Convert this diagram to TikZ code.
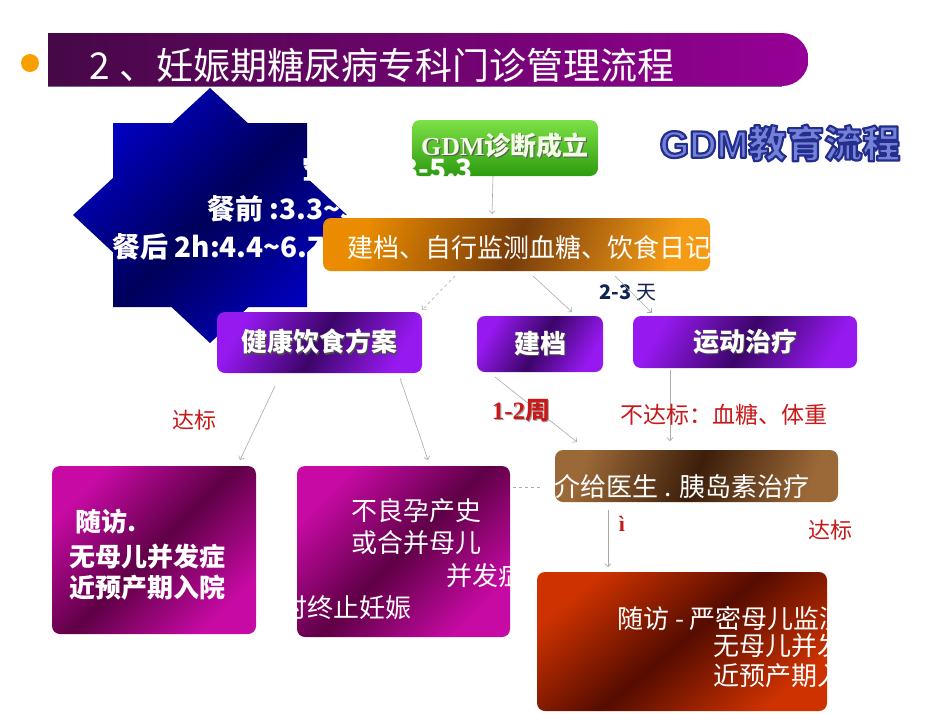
\documentclass[tikz,border=0pt]{standalone}
\usepackage{fontspec}
\setmainfont{Noto Sans CJK SC}
\newfontfamily\serifbf{Liberation Serif}
\newfontfamily\sansbf{Liberation Sans}
\usetikzlibrary{arrows.meta}

\definecolor{titleL}{RGB}{70,8,70}
\definecolor{titleR}{RGB}{150,0,150}
\definecolor{titleline}{RGB}{120,100,150}
\definecolor{bulletorange}{RGB}{247,160,0}
\definecolor{starlight}{RGB}{0,0,195}
\definecolor{stardark}{RGB}{0,0,90}
\definecolor{gdmtop}{RGB}{125,225,70}
\definecolor{gdmbottom}{RGB}{45,155,15}
\definecolor{gdmwhite}{RGB}{240,255,225}
\definecolor{gdmfill}{RGB}{115,130,215}
\definecolor{orangeA}{RGB}{235,140,0}
\definecolor{orangedark}{RGB}{120,60,10}
\definecolor{orangeB}{RGB}{245,155,20}
\definecolor{purpleA}{RGB}{150,25,240}
\definecolor{purpledark}{RGB}{60,5,105}
\definecolor{magentaA}{RGB}{200,10,165}
\definecolor{magentadark}{RGB}{95,0,70}
\definecolor{brownA}{RGB}{155,105,55}
\definecolor{browndark}{RGB}{60,30,10}
\definecolor{redA}{RGB}{205,50,0}
\definecolor{reddark}{RGB}{85,12,0}
\definecolor{labelred}{RGB}{200,25,25}
\definecolor{navytext}{RGB}{15,35,85}
\definecolor{linegray}{RGB}{170,170,170}

\newcommand{\boxradius}{8pt}
\newcommand{\shadowtext}[2]{\makebox[0pt][l]{\raisebox{-1.2pt}{\kern1.2pt\color{#1}#2}}#2}
% outlined letters: fill and stroke
\newcommand{\outlinetext}[1]{\special{pdf:literal 2 Tr 2.2 w 1 j 0.14 0.18 0.55 RG}#1\special{pdf:literal 0 Tr}}

\begin{document}
\begin{tikzpicture}[x=1pt,y=-1pt]
\tikzstyle{box}=[rounded corners=\boxradius,inner sep=0pt,outer sep=0pt]
\tikzstyle{conn}=[draw=linegray,line width=0.6pt,-{Straight Barb[length=3pt,width=6pt]}]
\tikzstyle{boxtext}=[anchor=base west,text=white,inner sep=0pt,font=\fontsize{26}{30}\selectfont]
\tikzstyle{startext}=[boxtext,font=\fontsize{28}{32}\selectfont\bfseries]
\tikzstyle{redlabel}=[text=labelred,inner sep=0pt,font=\fontsize{22}{26}\selectfont]
\tikzstyle{purplebox}=[box,left color=purpleA,right color=purpleA,middle color=purpledark,shading angle=60,text=white,font=\fontsize{26}{30}\selectfont\bfseries]
\tikzstyle{magentabox}=[box,left color=magentaA,right color=magentaA,middle color=magentadark,shading angle=45]

\useasboundingbox (0,0) rectangle (950,713);
\fill[white] (0,0) rectangle (950,713);

% title bar
\fill[bulletorange] (30,63) circle [radius=9];
\shade[left color=titleL,right color=titleR] (48,33) -- (782,33) arc [start angle=-90,end angle=90,radius=26.5] -- (48,86) -- cycle;
\draw[titleline,line width=1pt] (48,86) -- (782,86);
\node (title) [anchor=base west,text=white,inner sep=0pt,font=\fontsize{37}{40}\selectfont] at (89,79) {2\hspace{10pt}、妊娠期糖尿病专科门诊管理流程};

% star
\shade[left color=starlight,right color=starlight,middle color=stardark,shading angle=45]
  (113,123) rectangle (307,307) (210,88) -- (73,215) -- (210,343) -- (347,215) -- cycle;

\node (gdm) [box,top color=gdmtop,bottom color=gdmbottom,minimum width=186pt,minimum height=56pt] at (505,148) {};
\node (gdmtext) [text=gdmwhite,inner sep=0pt,font=\fontsize{26}{30}\selectfont\bfseries] at (505,146) {\shadowtext{black!65}{{\serifbf GDM}诊断成立}};

\node (fasting) [startext] at (302,179) {空腹 :3.3-5.3};
\node (premeal) [startext] at (207,219) {餐前 :3.3\textasciitilde 5.3};
\node (postmeal) [startext] at (112,257) {餐后 2h:4.4\textasciitilde 6.7};

\node (edu) [text=gdmfill,inner sep=0pt,font=\fontsize{38}{40}\selectfont\bfseries] at (780,143) {\outlinetext{{\sansbf GDM}教育流程}};

% record box
\node (record) [box,left color=orangeA,right color=orangeB,middle color=orangedark,shading angle=70,minimum width=387pt,minimum height=53pt] at (516.5,244.5) {};
\node (recordtext) [boxtext] at (347,257) {建档、自行监测血糖、饮食日记};

\node (diet) [purplebox,minimum width=205pt,minimum height=61pt] at (319.5,342.5) {\shadowtext{black!70}{健康饮食方案}};
\node (file) [purplebox,minimum width=126pt,minimum height=56pt] at (540,344) {\shadowtext{black!70}{建档}};
\node (exercise) [purplebox,minimum width=224pt,minimum height=52pt] at (745,342) {\shadowtext{black!70}{运动治疗}};

\node (days) [text=navytext,inner sep=0pt,font=\fontsize{20}{24}\selectfont] at (628,293) {\textbf{2-3} 天};

\draw[conn] ([xshift=-12pt]gdm.south) -- ([xshift=-24.5pt,yshift=4pt]record.north);
\draw[conn,dashed] ([xshift=-61.5pt,yshift=-5pt]record.south) -- ([xshift=102.5pt,yshift=2pt]diet.north);
\draw[conn] ([xshift=16.5pt,yshift=-5pt]record.south) -- ([xshift=32pt,yshift=4pt]file.north);
\draw[conn] ([xshift=98.5pt,yshift=-5pt]record.south) -- ([xshift=-93pt,yshift=3pt]exercise.north);

% lower boxes
\node (follow1) [magentabox,minimum width=204pt,minimum height=168pt] at (154,550) {};
\node (follow1a) [boxtext,font=\fontsize{26}{30}\selectfont\bfseries] at (75,531) {随访.};
\node (follow1b) [boxtext,font=\fontsize{26}{30}\selectfont\bfseries] at (69,566) {无母儿并发症};
\node (follow1c) [boxtext,font=\fontsize{26}{30}\selectfont\bfseries] at (69,597) {近预产期入院};

\node (terminate) [magentabox,minimum width=213pt,minimum height=171pt] at (403.5,551.5) {};
\node (terminatea) [boxtext] at (351,520) {不良孕产史};
\node (terminateb) [boxtext] at (351,552) {或合并母儿};
\node (terminatec) [boxtext] at (446,585) {并发症};
\node (terminated) [boxtext] at (255,617) {及时终止妊娠};

\draw[conn] ([xshift=-44.5pt,yshift=-13pt]diet.south) -- ([xshift=86pt,yshift=6pt]follow1.north);
\draw[conn] ([xshift=80.5pt,yshift=-5pt]diet.south) -- ([xshift=24.5pt,yshift=6pt]terminate.north);

\node (insulin) [box,left color=brownA,right color=brownA,middle color=browndark,shading angle=70,minimum width=283pt,minimum height=52pt] at (696.5,476) {};
\draw[conn,dashed,-] ([yshift=64.5pt,xshift=3pt]terminate.east) -- ([yshift=-11pt,xshift=-13pt]insulin.west);
\node (insulintext) [boxtext] at (528,496) {转介给医生 . 胰岛素治疗};

\draw[conn] ([xshift=-45pt,yshift=-5pt]file.south) -- ([xshift=-119.5pt,yshift=8pt]insulin.north);
\draw[conn] ([xshift=-75pt,yshift=-2pt]exercise.south) -- ([xshift=-26.5pt,yshift=9pt]insulin.north);

\node (follow2) [box,left color=redA,right color=redA,middle color=reddark,shading angle=40,minimum width=290pt,minimum height=139pt] at (682,641.5) {};
\node (follow2a) [boxtext] at (617,628) {随访 - 严密母儿监测};
\node (follow2b) [boxtext] at (713,655) {无母儿并发症};
\node (follow2c) [boxtext] at (713,685) {近预产期入院};

\draw[conn] ([xshift=-88.5pt,yshift=-8pt]insulin.south) -- ([xshift=-74pt,yshift=5pt]follow2.north);

% labels
\node (reach1) [redlabel] at (194,420) {达标};
\node (weeks) [redlabel,font=\fontsize{25}{28}\selectfont\bfseries] at (521,411) {\shadowtext{black!35}{{\serifbf 1-2}周}};
\node (miss) [redlabel,font=\fontsize{23}{26}\selectfont] at (724,415) {不达标：血糖、体重};
\node (reach2) [redlabel] at (830,530) {达标};
\node (mark) [redlabel,font=\fontsize{22}{26}\selectfont\bfseries] at (622,524) {{\serifbf ì}};

\end{tikzpicture}
\end{document}
